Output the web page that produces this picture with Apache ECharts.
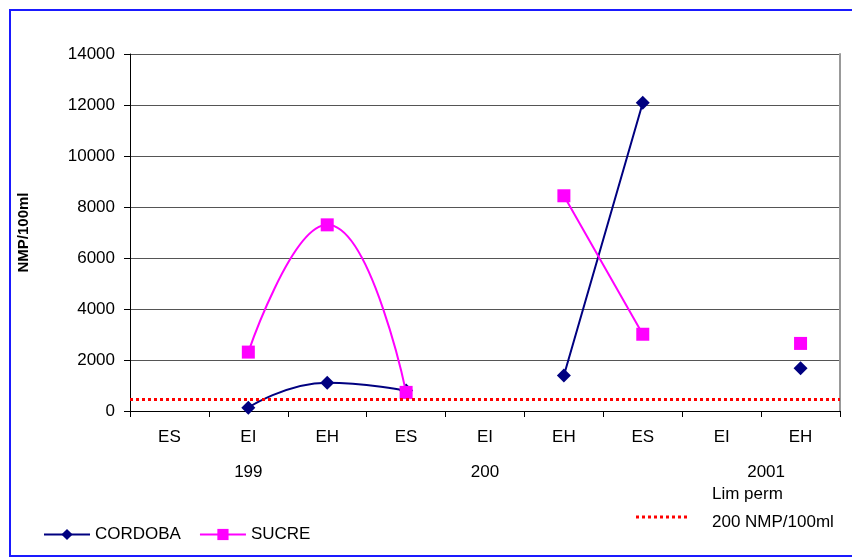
<!DOCTYPE html>
<html>
<head>
<meta charset="utf-8">
<script src="https://cdn.jsdelivr.net/npm/echarts@6/dist/echarts.min.js"></script>
<style>
html,body{margin:0;padding:0;background:#fff;}
#chart{width:852px;height:559px;}
</style>
</head>
<body>
<div id="chart"></div>
<script>
var categories = ['ES','EI','EH','ES','EI','EH','ES','EI','EH'];
var yearSlots = ['','','','199','','','','','','200','','','','','','','2001','',''];
var cordoba = [null, 130, 1110, 800, null, 1390, 12090, null, 1680];
var sucre = [null, 2310, 7300, 730, null, 8440, 3010, null, 2650];
var limitValue = 480;
var yTicks = [0, 2000, 4000, 6000, 8000, 10000, 12000, 14000];

var FONT = 'Liberation Sans, Arial, sans-serif';
var chart = echarts.init(document.getElementById('chart'), null, {renderer: 'canvas'});
chart.setOption({
  animation: false,
  backgroundColor: '#ffffff',
  grid: {left: 130, right: 12, top: 54, bottom: 148},
  xAxis: [{
    type: 'category',
    data: categories,
    boundaryGap: true,
    axisLine: {lineStyle: {color: '#000', width: 1}},
    axisTick: {show: true, interval: 0, length: 6, lineStyle: {color: '#000'}},
    axisLabel: {interval: 0, margin: 18, color: '#000', fontSize: 17, fontFamily: FONT},
    splitLine: {show: false}
  }, {
    type: 'category',
    data: yearSlots,
    boundaryGap: false,
    position: 'bottom',
    axisLine: {show: false},
    axisTick: {show: false},
    axisLabel: {interval: 0, margin: 53, color: '#000', fontSize: 17, fontFamily: FONT,
      formatter: function (v) { return v === '2001' ? '{s|' + v + '}' : v; },
      rich: {s: {fontSize: 17, fontFamily: FONT, color: '#000', padding: [0, 0, 0, 10]}}},
    splitLine: {show: false}
  }],
  yAxis: [{
    type: 'value',
    min: yTicks[0],
    max: yTicks[yTicks.length - 1],
    interval: 2000,
    name: 'NMP/100ml',
    nameLocation: 'middle',
    nameGap: 99,
    nameRotate: 90,
    nameTextStyle: {fontWeight: 'bold', fontSize: 15, color: '#000', fontFamily: FONT},
    axisLine: {show: true, lineStyle: {color: '#000', width: 1}},
    axisTick: {show: true, length: 6, lineStyle: {color: '#000'}},
    axisLabel: {margin: 15, color: '#000', fontSize: 17, fontFamily: FONT,
      formatter: function (v) { return String(v); }},
    splitLine: {show: true, lineStyle: {color: '#555', width: 1}}
  }, {
    type: 'value',
    position: 'right',
    min: yTicks[0],
    max: yTicks[yTicks.length - 1],
    axisLine: {show: true, lineStyle: {color: '#999', width: 2}},
    axisTick: {show: false},
    axisLabel: {show: false},
    splitLine: {show: false}
  }],
  legend: {
    left: 38,
    top: 521,
    itemWidth: 46,
    itemHeight: 14,
    itemGap: 18,
    textStyle: {fontSize: 17, color: '#000', fontFamily: FONT},
    data: ['CORDOBA', 'SUCRE']
  },
  series: [{
    name: 'CORDOBA',
    type: 'line',
    data: cordoba,
    smooth: 0.5,
    connectNulls: false,
    symbol: 'diamond',
    symbolSize: 14,
    itemStyle: {color: '#000080'},
    lineStyle: {color: '#000080', width: 2},
    z: 3,
    markLine: {
      silent: true,
      symbol: 'none',
      label: {show: false},
      lineStyle: {color: '#ff0000', type: [3, 3], width: 3},
      data: [{yAxis: limitValue}]
    }
  }, {
    name: 'SUCRE',
    type: 'line',
    data: sucre,
    smooth: 0.5,
    connectNulls: false,
    symbol: 'rect',
    symbolSize: 13,
    itemStyle: {color: '#ff00ff'},
    lineStyle: {color: '#ff00ff', width: 2},
    z: 4
  }],
  graphic: [
    {type: 'rect', shape: {x: 10, y: 10, width: 860, height: 546}, style: {fill: 'none', stroke: '#1a1aff', lineWidth: 2}, silent: true},
    {type: 'line', shape: {x1: 636, y1: 517, x2: 690, y2: 517}, style: {stroke: '#ff0000', lineWidth: 3, lineDash: [3, 3]}},
    {type: 'text', left: 712, top: 486, style: {text: 'Lim perm', fontSize: 17, fontFamily: FONT, fill: '#000'}},
    {type: 'text', left: 712, top: 514, style: {text: '200 NMP/100ml', fontSize: 17, fontFamily: FONT, fill: '#000'}}
  ]
});
</script>
</body>
</html>
